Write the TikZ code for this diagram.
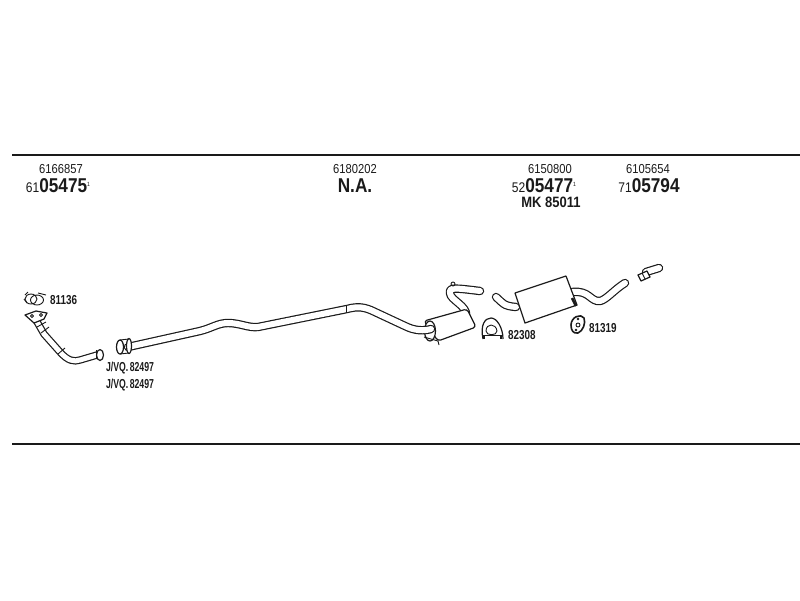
\documentclass[tikz,border=0pt]{standalone}
\usepackage{fontspec}
\setmainfont{Liberation Sans}
\usepackage{xcolor}
\definecolor{ink}{HTML}{1A1A1A}
\tikzset{
  rule/.style={draw=ink, line width=1.8pt},
  part/.style={draw=ink, line width=1.2pt, line join=round, fill=white},
  thin/.style={draw=ink, line width=0.9pt, line join=round},
  pipe/.style={draw=ink, line width=1.2pt, double=white, double distance=#1, line join=round, line cap=round},
  pipe/.default=5pt,
  num/.style={text=ink, inner sep=0pt, anchor=base, xscale=0.86, font=\fontsize{13}{13}\selectfont},
  bignum/.style={text=ink, inner sep=0pt, anchor=base, xscale=0.86, font=\fontsize{14}{14}\selectfont},
  ref/.style={text=ink, inner sep=0pt, anchor=base west, xscale=0.76, font=\fontsize{13}{13}\selectfont\bfseries},
}
\newcommand{\bigd}[1]{{\fontsize{20}{20}\selectfont\bfseries #1}}
\newcommand{\tick}{\raisebox{5.5pt}{\fontsize{6}{6}\selectfont 1}}
\begin{document}
\begin{tikzpicture}[x=1pt,y=-1pt]
  \useasboundingbox (0,0) rectangle (800,600);
  % rules
  \draw[rule] (12,155) -- (800,155);
  \draw[rule] (12,444) -- (800,444);
  % numbers
  \node[num] (oeA) at (61,173) {6166857};
  \node[bignum] (artA) at (58,192) {61\bigd{05475}\tick};
  \node[num] (oeB) at (355,173) {6180202};
  \node[bignum] (artB) at (355,192) {\bigd{N.A.}};
  \node[num] (oeC) at (550,173) {6150800};
  \node[bignum] (artC) at (544,192) {52\bigd{05477}\tick};
  \node[ref, xscale=1.14, font=\fontsize{15}{15}\selectfont\bfseries, anchor=base] (kit) at (551,207) {MK 85011};
  \node[num] (oeD) at (648,173) {6105654};
  \node[bignum] (artD) at (649,192) {71\bigd{05794}};
  % front pipe
  \draw[pipe] (36,320) -- (44,334) -- (60,352) .. controls (68,361) and (74,362) .. (80,360) -- (97,355);
  \draw[thin] (37,327) -- (46,322) (41,333) -- (49,327) (58,354) -- (65,348);
  \draw[part] (25,315) -- (36,311) -- (47,313) -- (44,319) -- (34,323) -- cycle;
  \draw[thin] (32,316) circle (1.5) (41,315) circle (1.5);
  \draw[part] (100,355) ellipse (3.5 and 5.5);
  \draw[thin] (96,350) -- (96,359);
  % gasket 81136
  \draw[thin] (37,300) ellipse (6.5 and 5) (31,299) ellipse (6 and 5);
  \draw[thin] (25,295) -- (28,292) (38,293) -- (46,295) (27,303) -- (24,299);
  % front muffler
  \draw[pipe=6pt] (466,316) .. controls (468,306) and (450,300) .. (450,293)
    .. controls (449,287) and (455,288) .. (480,291);
  \draw[thin] (453,284) circle (2);
  \draw[part, rounded corners=3pt] (424,321) -- (467,309) -- (476,327) -- (438,341) -- cycle;
  \draw[part] (430,331) ellipse (5.5 and 10);
  \draw[thin] (424,337) -- (438,341) -- (439,345);
  % main pipe
  \draw[pipe=6pt] (128,347) -- (200,331) .. controls (212,328) and (218,323) .. (228,323)
    .. controls (240,323) and (248,328) .. (258,327) -- (347,309)
    .. controls (358,306) and (365,307) .. (375,312) -- (405,326)
    .. controls (415,331) and (424,331) .. (431,329);
  \draw[thin] (346,305) -- (346,313);
  \draw[part] (120,347) ellipse (3.5 and 7);
  \draw[part] (129,346) ellipse (2.5 and 7.5);
  \draw[thin] (120,340) -- (129,339) (120,354) -- (129,353);
  % rear muffler
  \draw[pipe=6pt] (496,297) .. controls (503,303) and (503,306) .. (516,307);
  \draw[pipe=6pt] (572,292) .. controls (590,290) and (590,302) .. (600,301) .. controls (606,300) and (615,289) .. (625,283);
  \draw[part] (515,293) -- (566,276) -- (577,305) -- (525,323) -- cycle;
  \draw[line width=2.5pt, draw=ink] (572,298) -- (576,306);
  % tail piece
  \draw[pipe=6pt] (646,272) -- (659,268);
  \draw[part] (638,275) -- (647,271) -- (650,277) -- (641,281) -- cycle;
  \draw[thin] (642,273) -- (645,279);
  % clamp 82308
  \draw[part] (483,339) .. controls (480,325) and (485,318) .. (491,318) .. controls (497,318) and (503,328) .. (503,339);
  \draw[thin] (486,331) .. controls (486,323) and (496,323) .. (497,331) .. controls (497,336) and (486,336) .. (486,331);
  \draw[thin] (483,335) -- (503,335);
  \draw[line width=1.8pt, draw=ink] (484,336) -- (484,339) (501,336) -- (501,339);
  % bracket 81319
  \draw[part, line width=1.6pt] (571,325) .. controls (571,317) and (581,313) .. (584,318) .. controls (586,323) and (583,331) .. (578,333) .. controls (573,334) and (571,330) .. (571,325);
  \draw[draw=ink, fill=ink] (578,319) circle (1.2) (576,330) circle (1.2);
  \draw[draw=ink, line width=0.9pt] (578,325) circle (2);
  % part labels
  \node[ref] (gasket) at (50,304) {81136};
  \node[ref, xscale=0.88] (clampA) at (106,371) {J/VQ.\,82497};
  \node[ref, xscale=0.88] (clampB) at (106,388) {J/VQ.\,82497};
  \node[ref] (clampC) at (508,339) {82308};
  \node[ref] (bracket) at (589,332) {81319};
\end{tikzpicture}
\end{document}
